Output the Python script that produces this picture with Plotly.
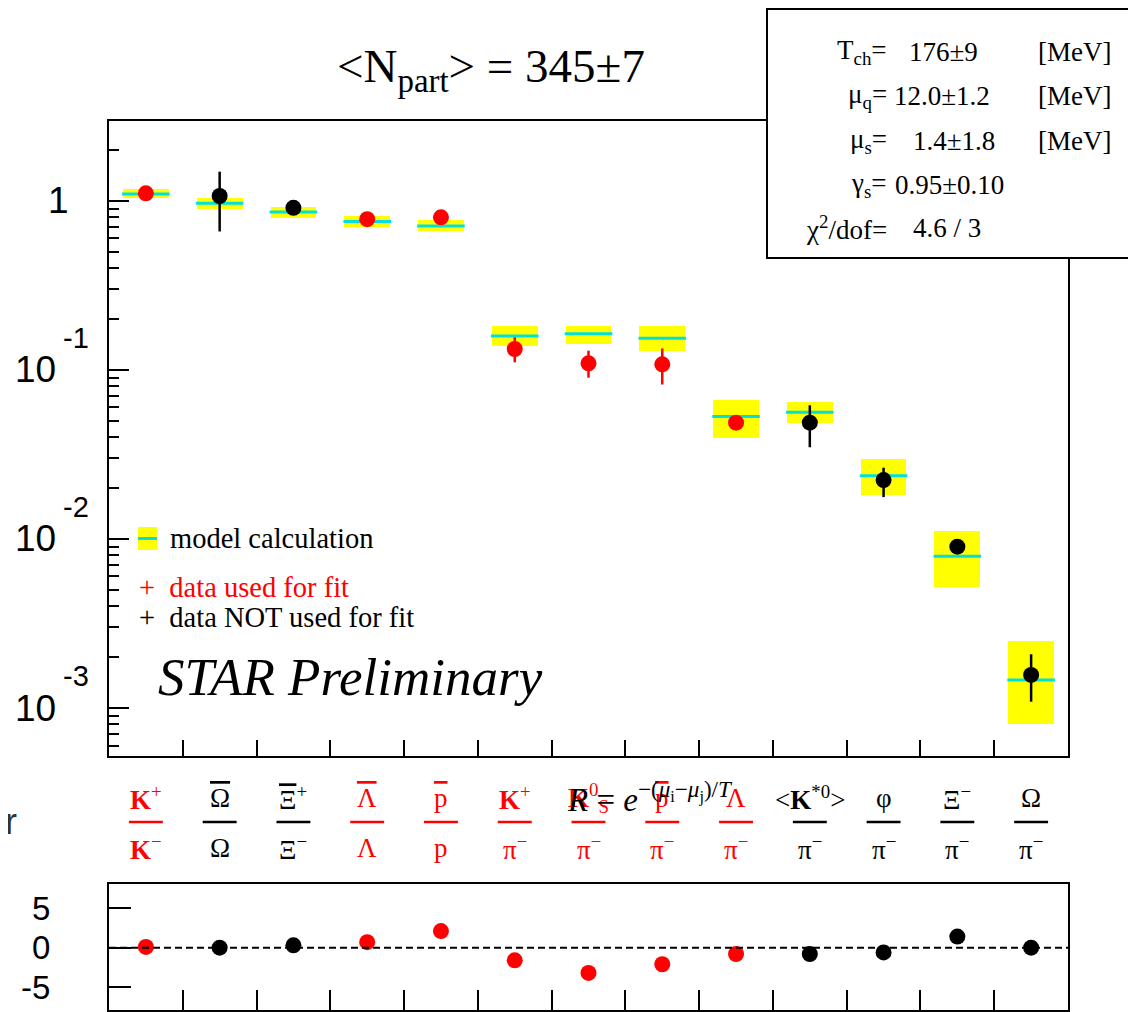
import math
import plotly.graph_objects as go

OFF = 8
FW, FH = 1128, 1004


def px(x):
    return (x - OFF) / FW


def py(y):
    return 1 - (y - OFF) / FH


# ---------------- data ----------------
categories = ["K+/K-", "aOmega/Omega", "aXi+/Xi-", "aLambda/Lambda", "pbar/p",
              "K+/pi-", "K0s/pi-", "pbar/pi-", "Lambda/pi-", "K*0/pi-",
              "phi/pi-", "Xi-/pi-", "Omega/pi-"]
OVL = '<span style="text-decoration:overline">{}</span>'
numerators = ["<b>K</b><sup>+</sup>", OVL.format("Ω"), OVL.format("Ξ") + "<sup>+</sup>",
              OVL.format("Λ"), OVL.format("p"),
              "<b>K</b><sup>+</sup>", "<b>K</b><sup>0</sup><sub>S</sub>", OVL.format("p"), "Λ",
              "&lt;<b>K</b><sup>*0</sup>&gt;", "φ", "Ξ<sup>−</sup>", "Ω"]
denominators = ["<b>K</b><sup>−</sup>", "Ω", "Ξ<sup>−</sup>", "Λ", "p",
                "π<sup>−</sup>", "π<sup>−</sup>", "π<sup>−</sup>", "π<sup>−</sup>",
                "π<sup>−</sup>", "π<sup>−</sup>", "π<sup>−</sup>", "π<sup>−</sup>"]
used_for_fit = [True, False, False, True, True, True, True, True, True,
                False, False, False, False]

data_ratio = [1.11, 1.07, 0.91, 0.78, 0.80, 0.133, 0.1095, 0.108, 0.0488,
              0.0488, 0.0223, 0.0090, 0.00157]
data_err_plus = [0.02, 0.42, 0.02, 0.02, 0.02, 0.023, 0.0205, 0.026, 0.002,
                 0.013, 0.0041, 0.0003, 0.00051]
data_err_minus = [0.02, 0.41, 0.02, 0.02, 0.02, 0.022, 0.0195, 0.026, 0.002,
                  0.0139, 0.0046, 0.0003, 0.00048]

model_ratio = [1.10, 0.97, 0.86, 0.755, 0.71, 0.159, 0.164, 0.154, 0.053,
               0.0562, 0.0237, 0.0079, 0.001465]
model_lo = [1.042, 0.897, 0.796, 0.702, 0.664, 0.139, 0.1425, 0.1295, 0.0394,
            0.0488, 0.0183, 0.00522, 0.000804]
model_hi = [1.178, 1.042, 0.925, 0.818, 0.772, 0.182, 0.182, 0.182, 0.0664,
            0.0644, 0.0299, 0.0112, 0.00249]

deviation = [0.1, 0.0, 0.3, 0.7, 2.1, -1.6, -3.2, -2.1, -0.8, -0.8, -0.6, 1.4, 0.0]

y_tickvals = [0.001, 0.01, 0.1, 1]
y_tick_base = ["10", "10", "10", "1"]
y_tick_exp = ["-3", "-2", "-1", ""]
dev_tickvals = [-5, 0, 5]
dev_ticktext = ["-5", "0", "5"]

fit_params = [("T<sub>ch</sub>=", "176±9", 907, "[MeV]"),
              ("μ<sub>q</sub>=", "12.0±1.2", 892, "[MeV]"),
              ("μ<sub>s</sub>=", "1.4±1.8", 911, "[MeV]"),
              ("γ<sub>s</sub>=", "0.95±0.10", 893, ""),
              ("χ<sup>2</sup>/dof=", "4.6 / 3", 911, "")]

RED = "#FF0000"
BLACK = "#000000"
YELLOW = "#FFFF00"
CYAN = "#00E0E0"
SERIF = "Liberation Serif"
SANS = "Liberation Sans"

colors = [RED if u else BLACK for u in used_for_fit]

fig = go.Figure()

# model boxes
fig.add_trace(go.Bar(
    x=categories, y=[h - l for h, l in zip(model_hi, model_lo)], base=model_lo,
    width=0.62, marker=dict(color=YELLOW, line=dict(width=0)),
    xaxis="x", yaxis="y", showlegend=False, hoverinfo="skip"))
fig.add_trace(go.Scatter(
    x=categories, y=model_ratio, mode="markers",
    marker=dict(symbol="line-ew", size=34, line=dict(width=3, color=CYAN)),
    xaxis="x", yaxis="y", showlegend=False))

# data points
for flag, col in [(True, RED), (False, BLACK)]:
    idx = [i for i, u in enumerate(used_for_fit) if u == flag]
    fig.add_trace(go.Scatter(
        x=[categories[i] for i in idx], y=[data_ratio[i] for i in idx],
        mode="markers",
        marker=dict(symbol="circle", size=16, color=col),
        error_y=dict(type="data", symmetric=False,
                     array=[data_err_plus[i] for i in idx],
                     arrayminus=[data_err_minus[i] for i in idx],
                     color=col, thickness=2.5, width=0),
        xaxis="x", yaxis="y", showlegend=False))
    fig.add_trace(go.Scatter(
        x=[categories[i] for i in idx], y=[deviation[i] for i in idx],
        mode="markers",
        marker=dict(symbol="circle", size=16, color=col),
        xaxis="x2", yaxis="y2", showlegend=False))

frame = dict(showline=True, mirror=True, linecolor="black", linewidth=2,
             showgrid=False, zeroline=False)

fig.update_layout(
    width=FW, height=FH,
    margin=dict(l=0, r=0, t=0, b=0),
    paper_bgcolor="white", plot_bgcolor="white",
    showlegend=False,
    bargap=0,
    xaxis=dict(domain=[px(109), px(1068)], type="category",
               categoryorder="array", categoryarray=categories,
               range=[-0.5, 12.5], tickson="boundaries",
               ticks="inside", ticklen=16, tickwidth=2, tickcolor="black",
               showticklabels=False, anchor="y", **frame),
    yaxis=dict(domain=[py(756), py(121)], type="log", range=[-3.284, 0.473],
               tickmode="array", tickvals=y_tickvals,
               ticks="inside", ticklen=20, tickwidth=2, tickcolor="black",
               minor=dict(dtick="D1", ticks="inside", ticklen=10, tickwidth=2,
                          tickcolor="black"),
               showticklabels=False, anchor="x", **frame),
    xaxis2=dict(domain=[px(109), px(1068)], type="category",
                categoryorder="array", categoryarray=categories,
                range=[-0.5, 12.5], tickson="boundaries",
                ticks="inside", ticklen=20, tickwidth=2, tickcolor="black",
                showticklabels=False, anchor="y2", **frame),
    yaxis2=dict(domain=[py(1010), py(884)], range=[-7.89, 8.06],
                tickmode="array", tickvals=dev_tickvals, ticktext=dev_ticktext,
                ticks="inside", ticklen=22, tickwidth=2, tickcolor="black",
                tickfont=dict(family=SANS, size=33, color="black"),
                ticklabelstandoff=50, anchor="x2", **frame),
)

# main y tick labels (ROOT style 10^n)
for v, base, ex in zip(y_tickvals, y_tick_base, y_tick_exp):
    if ex:
        fig.add_annotation(x=px(58), y=math.log10(v), xref="paper", yref="y",
                           text=base, showarrow=False, xanchor="right",
                           yanchor="middle",
                           font=dict(family=SANS, size=37, color="black"))
        fig.add_annotation(x=px(61), y=math.log10(v), xref="paper", yref="y",
                           text=ex, showarrow=False, xanchor="left",
                           yanchor="middle", yshift=32,
                           font=dict(family=SANS, size=29, color="black"))
    else:
        fig.add_annotation(x=px(71), y=math.log10(v), xref="paper", yref="y",
                           text=base, showarrow=False, xanchor="right",
                           yanchor="middle",
                           font=dict(family=SANS, size=37, color="black"))

# dashed zero line in deviation panel
fig.add_shape(type="line", xref="x2 domain", yref="y2", x0=0, x1=1, y0=0, y1=0,
              line=dict(color="black", width=2, dash="7px,4px"))

# category labels (fractions)
for i, cat in enumerate(categories):
    col = colors[i]
    fig.add_annotation(x=cat, xref="x", y=py(798), yref="paper",
                       text=numerators[i], showarrow=False,
                       font=dict(family=SERIF, size=27, color=col),
                       xanchor="center", yanchor="middle")
    fig.add_annotation(x=cat, xref="x", y=py(848), yref="paper",
                       text=denominators[i], showarrow=False,
                       font=dict(family=SERIF, size=27, color=col),
                       xanchor="center", yanchor="middle")
    fig.add_shape(type="line", xref="x", yref="paper",
                  x0=i - 0.23, x1=i + 0.23, y0=py(822), y1=py(822),
                  line=dict(color=col, width=2.5))

# formula R = exp(-(mu_i - mu_j)/T)
fig.add_annotation(x=px(565), y=py(797), xref="paper", yref="paper",
                   text="<i>R</i> = <i>e</i><sup>−(<i>μ</i><sub>i</sub>−<i>μ</i><sub>j</sub>)/<i>T</i></sup>",
                   showarrow=False, xanchor="left", yanchor="middle",
                   font=dict(family=SERIF, size=33, color="black"))

# title
fig.add_annotation(x=px(491), y=py(70), xref="paper", yref="paper",
                   text="&lt;N<sub>part</sub>&gt; = 345±7", showarrow=False,
                   xanchor="center", yanchor="middle",
                   font=dict(family=SERIF, size=47, color="black"))

# stats box
fig.add_shape(type="rect", xref="paper", yref="paper",
              x0=px(767), x1=px(1131), y0=py(258), y1=py(9),
              line=dict(color="black", width=2), fillcolor="white", layer="above")
line_y = [52, 96, 141, 185, 228]
for (lab, val, vx, unit), ly in zip(fit_params, line_y):
    fig.add_annotation(x=px(889), y=py(ly), xref="paper", yref="paper", text=lab,
                       showarrow=False, xanchor="right", yanchor="middle",
                       font=dict(family=SERIF, size=27, color="black"))
    fig.add_annotation(x=px(vx), y=py(ly), xref="paper", yref="paper", text=val,
                       showarrow=False, xanchor="left", yanchor="middle",
                       font=dict(family=SERIF, size=27, color="black"))
    if unit:
        fig.add_annotation(x=px(1036), y=py(ly), xref="paper", yref="paper",
                           text=unit, showarrow=False, xanchor="left",
                           yanchor="middle",
                           font=dict(family=SERIF, size=27, color="black"))

# in-plot legend
fig.add_shape(type="rect", xref="paper", yref="paper",
              x0=px(138), x1=px(157), y0=py(550), y1=py(527),
              fillcolor=YELLOW, line=dict(width=0))
fig.add_shape(type="line", xref="paper", yref="paper",
              x0=px(138), x1=px(157), y0=py(538.5), y1=py(538.5),
              line=dict(color=CYAN, width=3))
fig.add_annotation(x=px(168), y=py(538), xref="paper", yref="paper",
                   text="model calculation", showarrow=False,
                   xanchor="left", yanchor="middle",
                   font=dict(family=SERIF, size=28.5, color="black"))
fig.add_annotation(x=px(137), y=py(587), xref="paper", yref="paper",
                   text="+\u00a0\u00a0data used for fit", showarrow=False,
                   xanchor="left", yanchor="middle",
                   font=dict(family=SERIF, size=28.5, color=RED))
fig.add_annotation(x=px(137), y=py(617), xref="paper", yref="paper",
                   text="+\u00a0\u00a0data NOT used for fit", showarrow=False,
                   xanchor="left", yanchor="middle",
                   font=dict(family=SERIF, size=28.5, color="black"))
fig.add_annotation(x=px(156), y=py(677), xref="paper", yref="paper",
                   text="<i>STAR Preliminary</i>", showarrow=False,
                   xanchor="left", yanchor="middle",
                   font=dict(family=SERIF, size=53, color="black"))

# cut-off letter at left edge
fig.add_annotation(x=px(19), y=py(821), xref="paper", yref="paper",
                   text="r", showarrow=False, xanchor="right", yanchor="middle",
                   font=dict(family=SANS, size=36, color="#333333"))

fig.write_html("out.html")
